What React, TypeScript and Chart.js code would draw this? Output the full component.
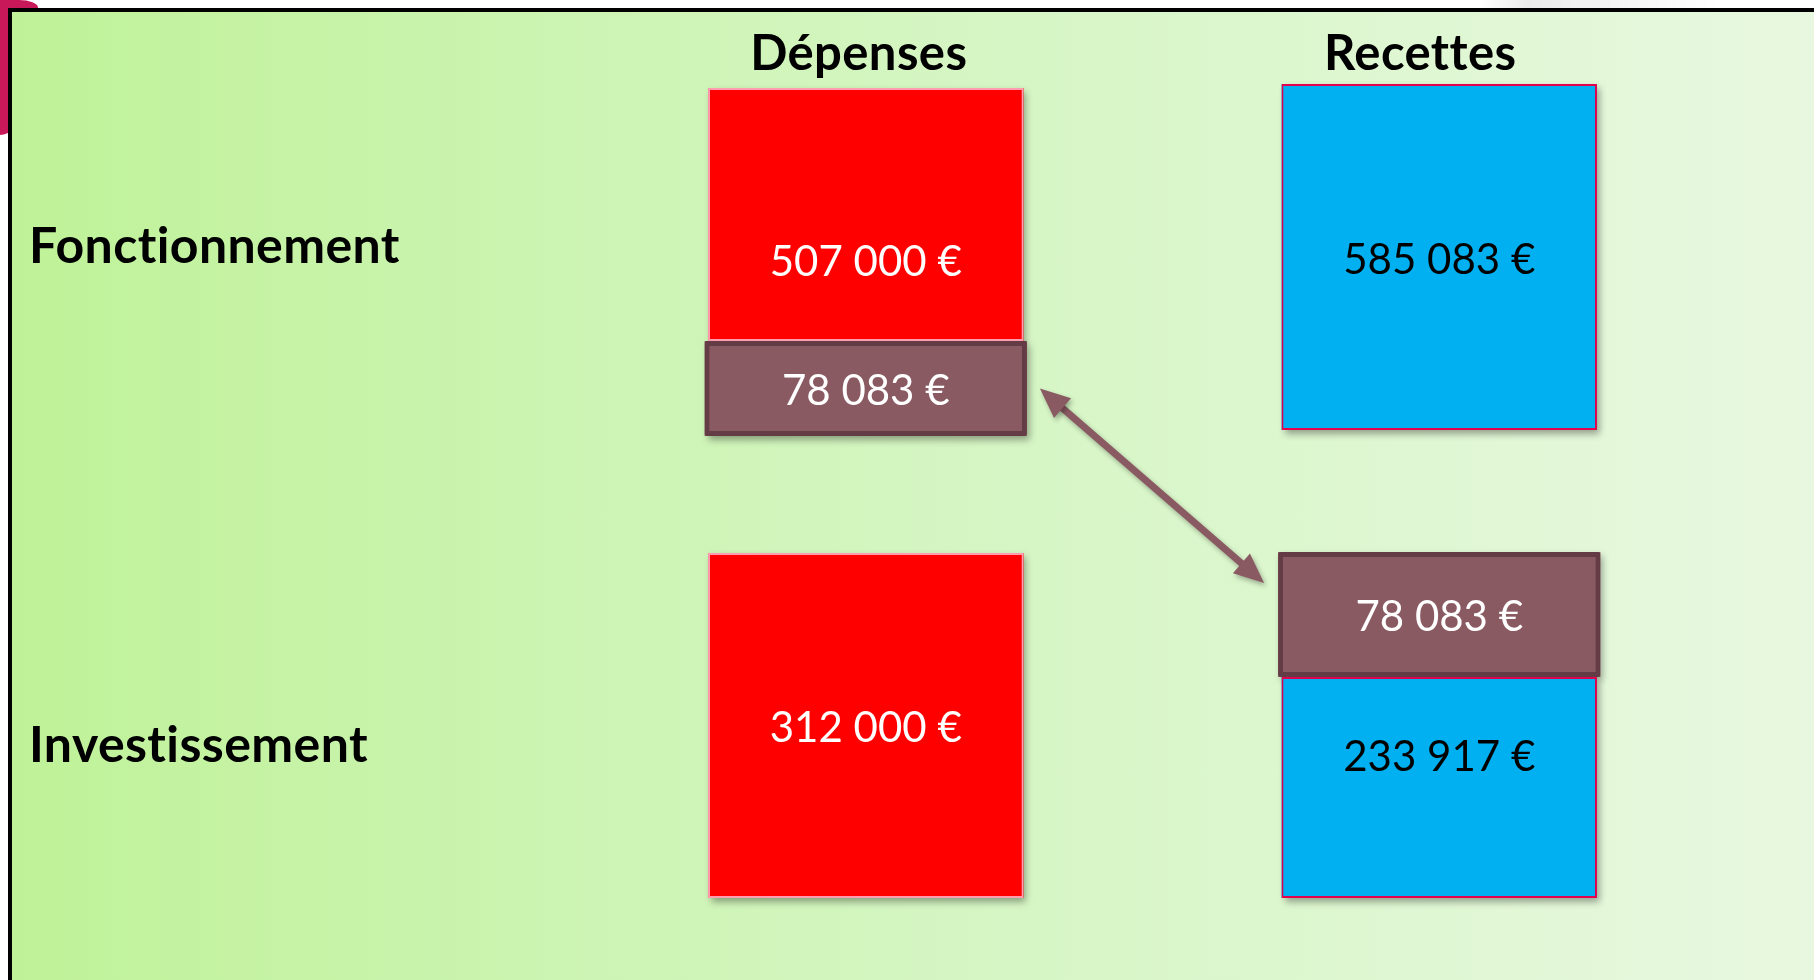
import React, { useEffect, useRef } from 'react';
import { Chart, registerables } from 'chart.js';

Chart.register(...registerables);

// ---- data ----
const categories = ['Dépenses', 'Recettes'];
const rowLabels = ['Fonctionnement', 'Investissement'];

// amounts (€)
const fonctionnementAmounts = [507000, 585083];
const virementAmounts = [78083, 78083];
const investissementAmounts = [312000, 233917];

// block extents, in diagram units (0 = top)
const fonctionnementSpans = [
  [76, 329],
  [72, 418],
];
const virementSpans = [
  [329, 424],
  [540, 665],
];
const investissementSpans = [
  [541, 886],
  [665, 886],
];

const CANVAS_W = 1802;
const CANVAS_H = 968;

const fmt = (n: number) => n.toString().replace(/\B(?=(\d{3})+(?!\d))/g, ' ') + ' €';

const RED = '#ff0000';
const BLUE = '#00b0f0';
const BROWN = '#8a5a62';
const BROWN_DARK = '#643c46';

function rectOf(el: any) {
  const p = el.getProps(['x', 'y', 'base', 'width'], true);
  const top = Math.min(p.y, p.base);
  const bottom = Math.max(p.y, p.base);
  return { left: p.x - p.width / 2, right: p.x + p.width / 2, top, bottom, cx: p.x, cy: (top + bottom) / 2 };
}

const shadowPlugin = {
  id: 'blockShadows',
  beforeDatasetsDraw(chart: any) {
    const ctx = chart.ctx;
    ctx.save();
    ctx.shadowColor = 'rgba(0,0,0,0.35)';
    ctx.shadowBlur = 7;
    ctx.shadowOffsetX = 3;
    ctx.shadowOffsetY = 4;
    chart.data.datasets.forEach((ds: any, di: number) => {
      const meta = chart.getDatasetMeta(di);
      meta.data.forEach((el: any, i: number) => {
        const r = rectOf(el);
        const bg = Array.isArray(ds.backgroundColor) ? ds.backgroundColor[i] : ds.backgroundColor;
        ctx.fillStyle = bg;
        ctx.fillRect(r.left, r.top, r.right - r.left, r.bottom - r.top);
      });
    });
    ctx.restore();
  },
};

const setNoLigatures = (ctx: any) => {
  try {
    ctx.letterSpacing = '0.4px';
  } catch (e) {
    /* ignore */
  }
};

const annotatePlugin = {
  id: 'annotate',
  afterDatasetsDraw(chart: any) {
    const ctx = chart.ctx;
    const xs = chart.scales.x;
    const ys = chart.scales.y;

    const vMeta = chart.getDatasetMeta(0);
    const fMeta = chart.getDatasetMeta(1);
    const iMeta = chart.getDatasetMeta(2);

    // ---- arrow between the two transfer blocks ----
    const a = rectOf(vMeta.data[0]);
    const b = rectOf(vMeta.data[1]);
    const p1 = { x: a.right + 13, y: a.cy };
    const p2 = { x: b.left - 14, y: b.top + 31 };
    const ang = Math.atan2(p2.y - p1.y, p2.x - p1.x);
    const headLen = 30;
    const headHalf = 13;
    ctx.save();
    ctx.shadowColor = 'rgba(0,0,0,0.3)';
    ctx.shadowBlur = 5;
    ctx.shadowOffsetX = 2;
    ctx.shadowOffsetY = 3;
    ctx.strokeStyle = BROWN;
    ctx.fillStyle = BROWN;
    ctx.lineWidth = 7;
    ctx.beginPath();
    ctx.moveTo(p1.x + Math.cos(ang) * (headLen - 4), p1.y + Math.sin(ang) * (headLen - 4));
    ctx.lineTo(p2.x - Math.cos(ang) * (headLen - 4), p2.y - Math.sin(ang) * (headLen - 4));
    ctx.stroke();
    const head = (tip: any, dir: number) => {
      const bx = tip.x + Math.cos(dir) * headLen;
      const by = tip.y + Math.sin(dir) * headLen;
      const nx = -Math.sin(dir) * headHalf;
      const ny = Math.cos(dir) * headHalf;
      ctx.beginPath();
      ctx.moveTo(tip.x, tip.y);
      ctx.lineTo(bx + nx, by + ny);
      ctx.lineTo(bx - nx, by - ny);
      ctx.closePath();
      ctx.fill();
    };
    head(p1, ang);
    head(p2, ang + Math.PI);
    ctx.restore();

    // ---- value labels ----
    const valueSize = 42;
    const drawVal = (text: string, x: number, cy: number, color: string) => {
      ctx.save();
      ctx.font = `400 ${valueSize}px Lato`;
      ctx.fillStyle = color;
      ctx.textAlign = 'center';
      ctx.textBaseline = 'alphabetic';
      ctx.fillText(text, x, cy + valueSize * 0.358);
      ctx.restore();
    };
    const fonctShift = [46, 2];
    const investShift = [1, -32];
    const textColors = ['#ffffff', '#000000'];
    categories.forEach((_, i) => {
      const f = rectOf(fMeta.data[i]);
      const v = rectOf(vMeta.data[i]);
      const inv = rectOf(iMeta.data[i]);
      drawVal(fmt(fonctionnementAmounts[i]), f.cx, f.cy + fonctShift[i], textColors[i]);
      drawVal(fmt(investissementAmounts[i]), inv.cx, inv.cy + investShift[i], textColors[i]);
      drawVal(fmt(virementAmounts[i]), v.cx, v.cy + 1.5, '#ffffff');
    });

    // ---- column titles ----
    const titleShift = [-7, -19];
    ctx.save();
    setNoLigatures(ctx);
    ctx.font = '700 49px Lato';
    ctx.fillStyle = '#000';
    ctx.textAlign = 'center';
    ctx.textBaseline = 'alphabetic';
    categories.forEach((c, i) => {
      ctx.fillText(c, xs.getPixelForValue(i) + titleShift[i], ys.getPixelForValue(58));
    });
    // ---- row labels ----
    ctx.font = '700 50px Lato';
    ctx.textAlign = 'left';
    const rowBaselines = [251, 750];
    rowLabels.forEach((r, i) => {
      ctx.fillText(r, 17, ys.getPixelForValue(rowBaselines[i]));
    });
    ctx.restore();
  },
};

export default function App() {
  const ref = useRef<HTMLCanvasElement | null>(null);

  useEffect(() => {
    if (!ref.current) return;
    const chart = new Chart(ref.current, {
      type: 'bar',
      data: {
        labels: categories,
        datasets: [
          {
            label: 'Virement',
            data: virementSpans as any,
            backgroundColor: BROWN,
            borderColor: BROWN_DARK,
            borderWidth: 5,
            borderRadius: 2,
            barPercentage: 0.562,
            order: 0,
          },
          {
            label: 'Fonctionnement',
            data: fonctionnementSpans as any,
            backgroundColor: [RED, BLUE],
            borderColor: ['#ff9db0', '#e4004c'],
            borderWidth: 2,
            barPercentage: 0.55,
            order: 1,
          },
          {
            label: 'Investissement',
            data: investissementSpans as any,
            backgroundColor: [RED, BLUE],
            borderColor: ['#ff9db0', '#e4004c'],
            borderWidth: 2,
            barPercentage: 0.55,
            order: 2,
          },
        ],
      },
      options: {
        responsive: false,
        animation: false,
        events: [],
        layout: { padding: { left: 567, right: 88, top: 0, bottom: 0 } },
        datasets: {
          bar: { grouped: false, categoryPercentage: 1, borderSkipped: false } as any,
        },
        scales: {
          x: { type: 'category', display: false, offset: true, grid: { display: false } },
          y: { type: 'linear', display: false, reverse: true, min: 0, max: CANVAS_H },
        },
        plugins: {
          legend: { display: false },
          tooltip: { enabled: false },
        },
      },
      plugins: [shadowPlugin, annotatePlugin],
    });
    return () => chart.destroy();
  }, []);

  return (
    <div>
      <div
        style={{
          position: 'fixed',
          left: 0,
          top: 0,
          width: 38,
          height: 135,
          background: '#c8185a',
          borderBottomRightRadius: '40px 90px',
          borderTopRightRadius: '20px 8px',
        }}
      />
      <div
        style={{
          position: 'fixed',
          left: 1480,
          top: 0,
          width: 240,
          height: 8,
          background: 'linear-gradient(to right, rgba(0,0,0,0) 0%, rgba(0,0,0,0.08) 20%, rgba(0,0,0,0) 100%)',
        }}
      />
      <div
        style={{
          position: 'fixed',
          left: 8,
          top: 8,
          width: 1806,
          height: 972,
          boxSizing: 'border-box',
          borderLeft: '4px solid #000',
          borderTop: '4px solid #000',
          background: 'linear-gradient(to right, #bff298 0%, #ccf4b2 30%, #d8f6c8 60%, #e8f8e0 100%)',
          overflow: 'hidden',
        }}
      >
        <canvas ref={ref} width={CANVAS_W} height={CANVAS_H} style={{ display: 'block' }} />
      </div>
    </div>
  );
}
